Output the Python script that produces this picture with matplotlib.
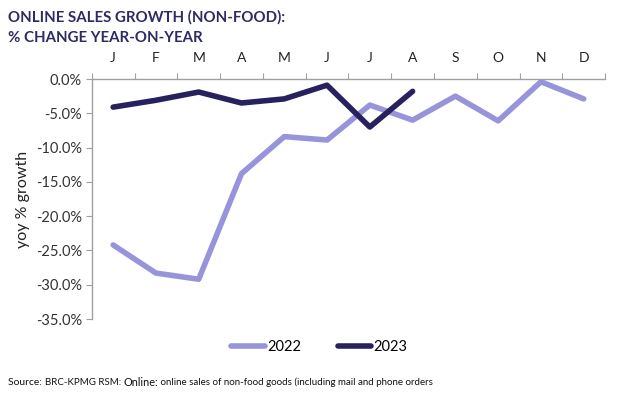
import matplotlib.pyplot as plt
import matplotlib.ticker as mticker
import numpy as np

months = ['J', 'F', 'M', 'A', 'M', 'J', 'J', 'A', 'S', 'O', 'N', 'D']
growth_2022 = [-24.2, -28.3, -29.2, -13.8, -8.4, -8.9, -3.8, -6.0, -2.5, -6.1, -0.4, -2.9]
growth_2023 = [-4.1, -3.1, -1.9, -3.5, -2.9, -0.9, -7.0, -1.8]
y_ticks = [0, -5, -10, -15, -20, -25, -30, -35]

col_2022 = '#9894db'
col_2023 = '#27225e'
title_col = '#2e2a63'

fig = plt.figure(figsize=(6.2, 3.96), dpi=100)
ax = fig.add_axes([0.148, 0.1944, 0.828, 0.6061])

x22 = np.arange(len(growth_2022))
x23 = np.arange(len(growth_2023))
ax.plot(x22, growth_2022, color=col_2022, lw=4, solid_capstyle='round', label='2022')
ax.plot(x23, growth_2023, color=col_2023, lw=4, solid_capstyle='round', label='2023')

ax.set_xlim(-0.5, 11.5)
ax.set_ylim(-35, 0)

# month labels sit on top, tick marks at category boundaries
ax.xaxis.tick_top()
ax.set_xticks(np.arange(-0.5, 12, 1))
ax.set_xticklabels([])
ax.set_xticks(np.arange(12), minor=True)
ax.set_xticklabels(months, minor=True, fontsize=10, color='#222222', family='Lato')
ax.tick_params(axis='x', which='major', length=4, color='#a0a0a0', direction='out')
ax.tick_params(axis='x', which='minor', length=0, pad=11)

ax.set_yticks(y_ticks)
ax.yaxis.set_major_formatter(mticker.FuncFormatter(lambda v, p: f'{v:.1f}%'))
ax.tick_params(axis='y', length=4, color='#a0a0a0', labelsize=10.5, labelcolor='#333333', pad=3)
for lab in ax.get_yticklabels():
    lab.set_family('Lato')

for s in ['right', 'bottom']:
    ax.spines[s].set_visible(False)
for s in ['left', 'top']:
    ax.spines[s].set_color('#a0a0a0')
    ax.spines[s].set_linewidth(1)

ax.set_ylabel('yoy % growth', fontsize=11.5, color='#222222', family='Lato', labelpad=4)

fig.text(0.013, 0.955, 'ONLINE SALES GROWTH (NON-FOOD):', fontsize=10.8, fontweight='bold',
         color=title_col, family='Lato', va='center')
fig.text(0.013, 0.905, '% CHANGE YEAR-ON-YEAR', fontsize=10.8, fontweight='bold',
         color=title_col, family='Lato', va='center')

fig.legend(loc='center', bbox_to_anchor=(0.515, 0.124), ncol=2, frameon=False,
           prop={'family': 'Lato', 'size': 10.5}, handlelength=2.3, handletextpad=0.15,
           columnspacing=2.5)

# source line built from pieces so the bold-ish "Online:" sits right after the prefix
renderer = fig.canvas.get_renderer()
pieces = [('Source: ', 7.5), ('BRC-KPMG RSM: ', 7), ('Online:', 7.8),
          (' online sales of non-food goods (including mail and phone orders', 7)]
x_pos = 0.013
for txt, size in pieces:
    t = fig.text(x_pos, 0.035, txt, fontsize=size, color='#111111', family='Lato', va='center')
    bb = t.get_window_extent(renderer)
    x_pos += bb.width / fig.bbox.width

fig.savefig('out.png', dpi=100)
